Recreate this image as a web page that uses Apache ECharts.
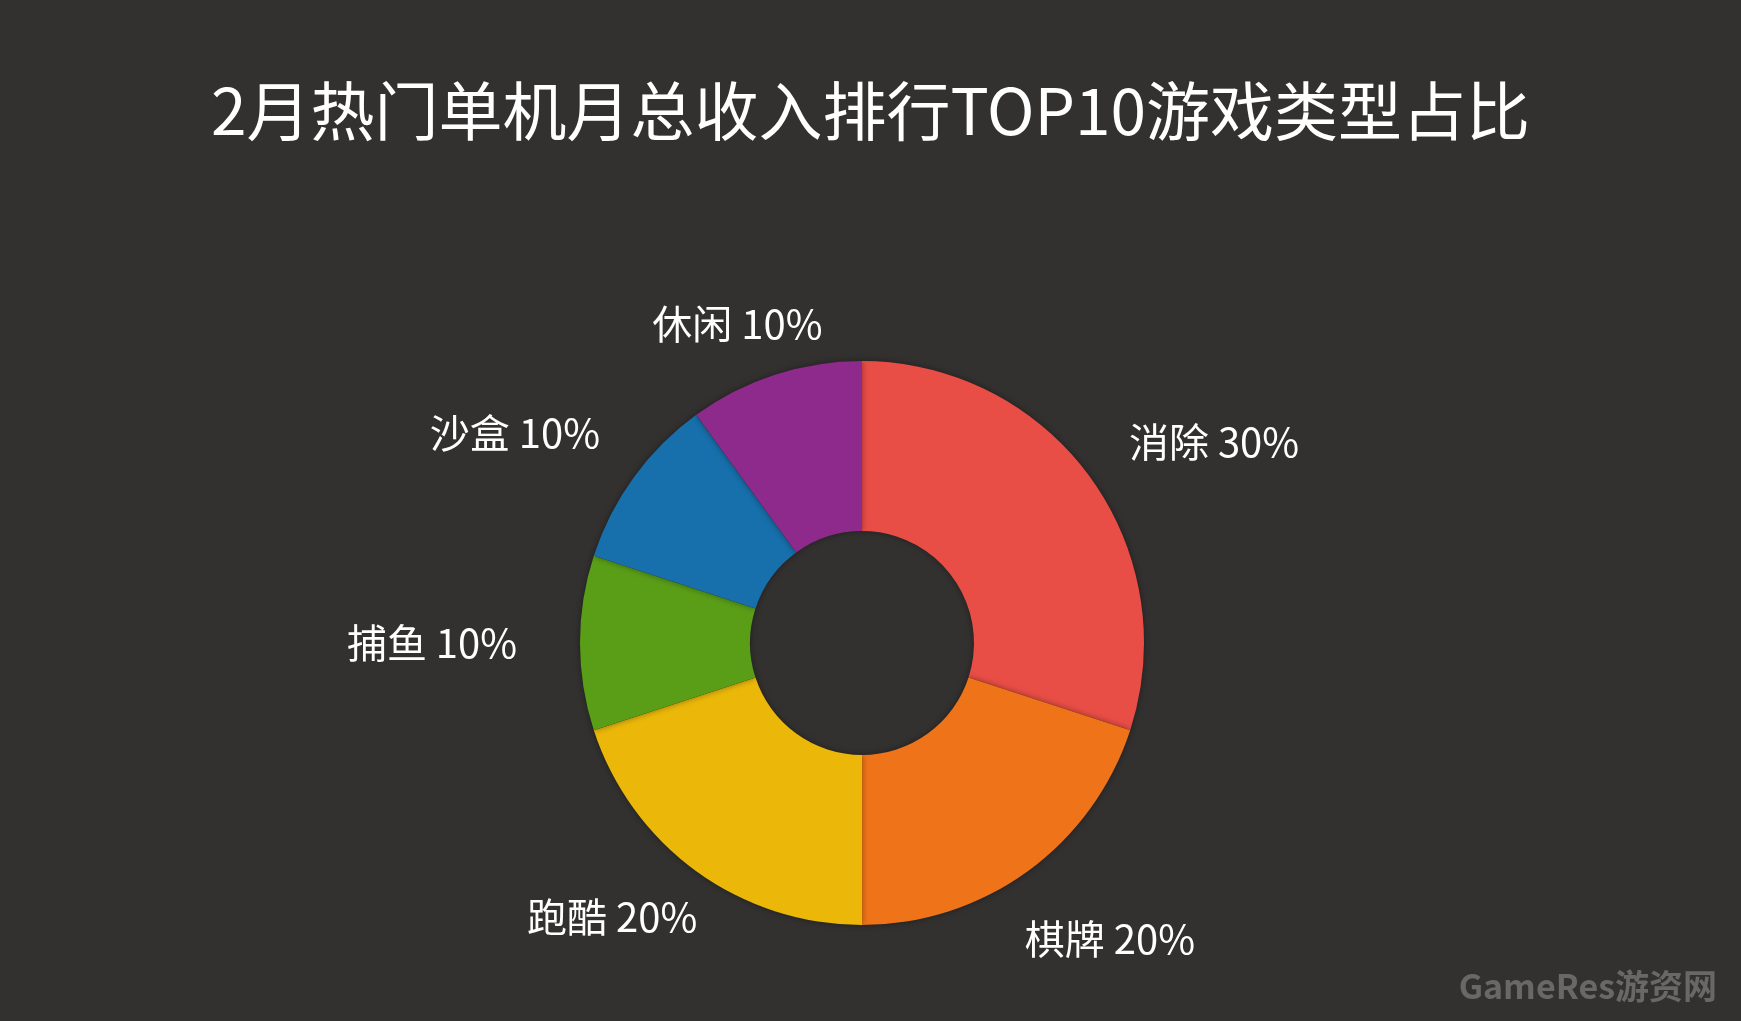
<!DOCTYPE html><html><head><meta charset="utf-8">
<script src="https://cdn.jsdelivr.net/npm/echarts@6/dist/echarts.min.js"></script>
<style>html,body{margin:0;background:#333130}#c{width:1741px;height:1021px}</style></head><body><div id="c"></div>
<script>
const categories=['消除','棋牌','跑酷','捕鱼','沙盒','休闲'];
const values=[30,20,20,10,10,10];
const colors=['#e94e46','#ef7419','#ebb80a','#5a9e18','#1770ab','#8e2a8b'];
const labelOffsets=[[26,36],[11,-30],[-13,-52],[-27,0],[-21,27],[0,64]];
const data=categories.map((n,i)=>({name:n,value:values[i],itemStyle:{color:colors[i]}}));
const chart=echarts.init(document.getElementById('c'));
const font='"Noto Sans CJK SC","Noto Sans",sans-serif';
chart.setOption({
backgroundColor:'#333130',
title:{text:'2月热门单机月总收入排行TOP10游戏类型占比',left:'center',top:74,textStyle:{color:'#fff',fontSize:64,fontWeight:'normal',fontFamily:font}},
graphic:[{type:'text',right:24,bottom:18,style:{text:'GameRes游资网',fill:'#6a6866',font:'bold 34px '+font}}],
series:[
{type:'pie',center:[862,643],radius:[112,282],startAngle:90,clockwise:true,label:{show:false},labelLine:{show:false},silent:true,data:data,
 itemStyle:{shadowBlur:6,shadowColor:'rgba(0,0,0,0.4)'}},
{type:'pie',center:[862,643],radius:[340,460],startAngle:90,clockwise:true,silent:true,
 data:data.map((d,i)=>({name:d.name,value:d.value,itemStyle:{color:'transparent'},label:{offset:labelOffsets[i]}})),
 label:{show:true,position:'inside',formatter:p=>p.name+' '+p.value+'%',color:'#fff',fontSize:40,fontFamily:font},labelLine:{show:false}}
]});
</script></body></html>
